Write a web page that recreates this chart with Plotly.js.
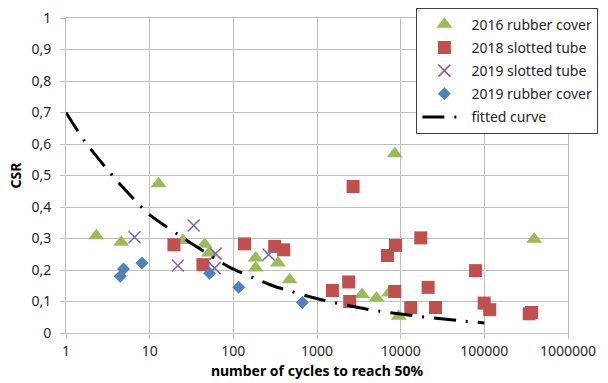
<!DOCTYPE html>
<html>
<head>
<meta charset="utf-8">
<script src="https://cdn.plot.ly/plotly-3.0.1.min.js"></script>
<style>
  html, body { margin: 0; padding: 0; background: #ffffff; }
  #chart { width: 608px; height: 383px; }
</style>
</head>
<body>
<div id="chart"></div>
<script>
// 2016 rubber cover
const rubber2016X = [2.3, 4.57, 12.8, 24.9, 45.4, 51.1, 185, 185, 341, 471, 3452, 5137, 7263, 8500, 9490, 394000];
const rubber2016Y = [0.309, 0.288, 0.474, 0.294, 0.282, 0.254, 0.238, 0.206, 0.222, 0.169, 0.122, 0.111, 0.127, 0.569, 0.053, 0.298];

// 2018 slotted tube
const slotted2018X = [19.5, 43.3, 136, 312, 400, 1528, 2393, 2460, 2700, 6950, 8500, 8670, 13200, 17400, 21300, 26100, 78500, 99500, 116000, 344000, 367000];
const slotted2018Y = [0.280, 0.217, 0.283, 0.275, 0.264, 0.135, 0.162, 0.100, 0.465, 0.246, 0.132, 0.278, 0.081, 0.302, 0.145, 0.081, 0.198, 0.095, 0.074, 0.061, 0.065];

// 2019 slotted tube
const slotted2019X = [6.6, 21.7, 33.5, 59.8, 61.4, 264];
const slotted2019Y = [0.304, 0.214, 0.341, 0.206, 0.252, 0.249];

// 2019 rubber cover
const rubber2019X = [4.45, 4.87, 8.07, 52.1, 116, 669];
const rubber2019Y = [0.180, 0.203, 0.222, 0.190, 0.145, 0.097];

// fitted curve
const fitX = [1, 1.7, 3.9, 9.7, 29.4, 88.6, 298, 1040, 3848, 14000, 52000, 100000];
const fitY = [0.70, 0.606, 0.489, 0.378, 0.290, 0.21, 0.150, 0.108, 0.076, 0.055, 0.039, 0.032];

// axis ticks
const xTickVals = [1, 10, 100, 1000, 10000, 100000, 1000000];
const xTickText = ['1', '10', '100', '1000', '10000', '100000', '1000000'];
const yTickVals = [0, 0.1, 0.2, 0.3, 0.4, 0.5, 0.6, 0.7, 0.8, 0.9, 1];
const yTickText = ['0', '0,1', '0,2', '0,3', '0,4', '0,5', '0,6', '0,7', '0,8', '0,9', '1'];

const FONT = 'Noto Sans, Open Sans, sans-serif';
const GRID = '#bfbfbf';

const traces = [
  {
    name: '2016 rubber cover', x: rubber2016X, y: rubber2016Y,
    type: 'scatter', mode: 'markers', legendgroup: 'g1',
    marker: { symbol: 'triangle-up', size: 14, color: '#9bbb59' }
  },
  {
    name: '2018 slotted tube', x: slotted2018X, y: slotted2018Y,
    type: 'scatter', mode: 'markers', legendgroup: 'g2',
    marker: { symbol: 'square', size: 13, color: '#c0504d' }
  },
  {
    name: '2019 slotted tube', x: slotted2019X, y: slotted2019Y,
    type: 'scatter', mode: 'markers', legendgroup: 'g3',
    marker: { symbol: 'x-thin-open', size: 12, color: '#8064a2', line: { color: '#8064a2', width: 1.5 } }
  },
  {
    name: '2019 rubber cover', x: rubber2019X, y: rubber2019Y,
    type: 'scatter', mode: 'markers', legendgroup: 'g4',
    marker: { symbol: 'diamond', size: 10, color: '#4f81bd' }
  },
  {
    name: 'fitted curve', x: fitX, y: fitY,
    type: 'scatter', mode: 'lines', legendgroup: 'g5',
    line: { color: '#000000', width: 3, dash: '22px,10px,2px,10px', shape: 'spline', smoothing: 0.6 }
  }
];

const layout = {
  width: 608,
  height: 383,
  margin: { l: 66, r: 40, t: 18, b: 50, autoexpand: false },
  paper_bgcolor: '#ffffff',
  plot_bgcolor: '#ffffff',
  font: { family: FONT, size: 14, color: '#262626' },
  showlegend: true,
  legend: {
    x: 0.698, y: 1.033, xanchor: 'left', yanchor: 'top',
    bgcolor: '#ffffff', bordercolor: '#404040', borderwidth: 1,
    font: { family: FONT, size: 14, color: '#262626' },
    itemwidth: 44, tracegroupgap: 2
  },
  xaxis: {
    type: 'log',
    range: [0, 6],
    tickvals: xTickVals,
    ticktext: xTickText,
    tickfont: { family: FONT, size: 14, color: '#262626' },
    ticks: 'outside', ticklen: 5, tickcolor: GRID,
    showgrid: true, gridcolor: GRID, gridwidth: 1,
    showline: true, linecolor: GRID, linewidth: 1, mirror: true,
    zeroline: false,
    title: { text: 'number of cycles to reach 50%', font: { family: FONT, size: 14, color: '#000000', weight: 'bold' }, standoff: 7 }
  },
  yaxis: {
    range: [0, 1],
    tickvals: yTickVals,
    ticktext: yTickText,
    tickfont: { family: FONT, size: 14, color: '#262626' },
    ticks: 'outside', ticklen: 5, tickcolor: GRID,
    ticklabelstandoff: 6,
    showgrid: true, gridcolor: GRID, gridwidth: 1,
    showline: true, linecolor: GRID, linewidth: 1, mirror: true,
    zeroline: false,
    title: { text: 'CSR', font: { family: FONT, size: 14, color: '#000000', weight: 'bold' }, standoff: 6 }
  }
};

Plotly.newPlot('chart', traces, layout, { displayModeBar: false, staticPlot: true });
</script>
</body>
</html>
